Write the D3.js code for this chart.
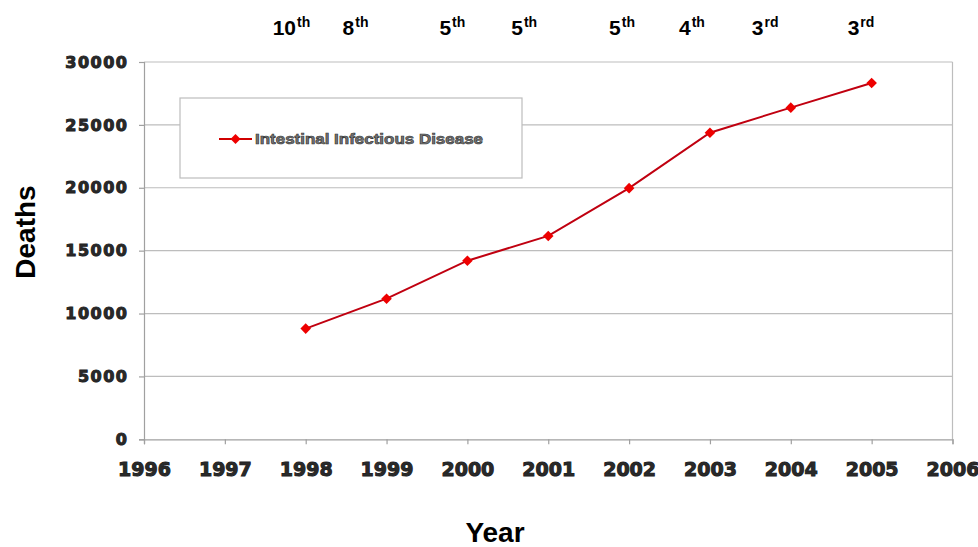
<!DOCTYPE html>
<html>
<head>
<meta charset="utf-8">
<script src="https://cdn.jsdelivr.net/npm/d3@7"></script>
<style>
  html, body { margin: 0; padding: 0; background: #fff; }
  svg { display: block; }
</style>
</head>
<body>
<svg id="chart" width="978" height="547"></svg>
<script>
// ---- data ----
const years = [1998, 1999, 2000, 2001, 2002, 2003, 2004, 2005];
const deaths = [8800, 11180, 14200, 16170, 19970, 24380, 26370, 28330];
const rankNum = ["10", "8", "5", "5", "5", "4", "3", "3"];
const rankSuffix = ["th", "th", "th", "th", "th", "th", "rd", "rd"];
const xTicks = [1996, 1997, 1998, 1999, 2000, 2001, 2002, 2003, 2004, 2005, 2006];
const yTicks = [0, 5000, 10000, 15000, 20000, 25000, 30000];
const seriesName = "Intestinal Infectious Disease";
const xTitle = "Year";
const yTitle = "Deaths";

// ---- layout (positions, not data) ----
const rankOffsets = [-33, -44, -28, -37, -20, -31, -39, -24];

(function () {
const svg = d3.select("#chart");
const pL = 144, pR = 952.5, pT = 62, pB = 439.3;

const x = d3.scaleLinear().domain([1996, 2006]).range([pL, pR]);
const y = d3.scaleLinear().domain([0, 30000]).range([pB, pT]);

// gridlines
svg.append("g").selectAll("line").data(yTicks.filter(d => d > 0)).join("line")
  .attr("x1", pL).attr("x2", pR)
  .attr("y1", d => y(d)).attr("y2", d => y(d))
  .attr("stroke", "#bdbdbd").attr("stroke-width", 1.2);

// right border
svg.append("line").attr("x1", pR).attr("x2", pR).attr("y1", pT).attr("y2", pB)
  .attr("stroke", "#bdbdbd").attr("stroke-width", 1.2);

// y axis
const yAxis = d3.axisLeft(y).tickValues(yTicks).tickSize(5).tickPadding(10.5).tickFormat(d3.format("d"));
const yg = svg.append("g").attr("transform", `translate(${pL},0)`).call(yAxis);
yg.select(".domain").attr("stroke", "#a0a0a0").attr("stroke-width", 1.2);
yg.selectAll(".tick line").attr("stroke", "#a0a0a0").attr("stroke-width", 1.2);
yg.selectAll(".tick text")
  .attr("font-family", "'DejaVu Sans', sans-serif").attr("font-weight", "bold")
  .attr("font-size", 16).attr("letter-spacing", 1.5)
  .attr("fill", "#2a2a2a").attr("stroke", "#222").attr("stroke-width", 1);

// x axis
const xAxis = d3.axisBottom(x).tickValues(xTicks).tickSize(5).tickPadding(18).tickFormat(d3.format("d"));
const xg = svg.append("g").attr("transform", `translate(0,${pB})`).call(xAxis);
xg.select(".domain").attr("stroke", "#a0a0a0").attr("stroke-width", 1.2);
xg.selectAll(".tick line").attr("stroke", "#a0a0a0").attr("stroke-width", 1.2);
xg.selectAll(".tick text")
  .attr("font-family", "'DejaVu Sans', sans-serif").attr("font-weight", "bold")
  .attr("font-size", 19)
  .attr("fill", "#2a2a2a").attr("stroke", "#222").attr("stroke-width", 1);

// legend
const lg = svg.append("g");
lg.append("rect").attr("x", 180).attr("y", 98).attr("width", 342).attr("height", 80)
  .attr("fill", "#fff").attr("stroke", "#bdbdbd").attr("stroke-width", 1.2);
lg.append("line").attr("x1", 219).attr("x2", 252).attr("y1", 139).attr("y2", 139)
  .attr("stroke", "#d00000").attr("stroke-width", 2);
lg.append("path").attr("d", d3.symbol(d3.symbolSquare, 50)())
  .attr("transform", "translate(235.5,139) rotate(45)").attr("fill", "#ee0000");
lg.append("text").attr("x", 255).attr("y", 143.5).text(seriesName)
  .attr("font-family", "'Liberation Sans', Arial, sans-serif").attr("font-weight", "bold")
  .attr("font-size", 14).attr("fill", "#777").attr("stroke", "#333").attr("stroke-width", 0.6)
  .attr("textLength", 228).attr("lengthAdjust", "spacingAndGlyphs");

// line
const line = d3.line().x((d, i) => x(years[i])).y(d => y(d));
svg.append("path").datum(deaths).attr("d", line)
  .attr("fill", "none").attr("stroke", "#c00010").attr("stroke-width", 2);

svg.append("g").selectAll("path").data(deaths).join("path")
  .attr("d", d3.symbol(d3.symbolSquare, 56)())
  .attr("transform", (d, i) => `translate(${x(years[i])},${y(d)}) rotate(45)`)
  .attr("fill", "#ee0000");

// rank labels
const rg = svg.append("g").selectAll("text").data(rankNum).join("text")
  .attr("x", (d, i) => x(years[i]) + rankOffsets[i])
  .attr("y", 35)
  .attr("font-family", "'Liberation Sans', Arial, sans-serif").attr("font-weight", "bold")
  .attr("font-size", 21).attr("fill", "#000");
rg.append("tspan").text(d => d);
rg.append("tspan").text((d, i) => rankSuffix[i]).attr("font-size", 14).attr("dy", -8).attr("dx", 1);

// axis titles
svg.append("text").attr("x", 495).attr("y", 542).attr("text-anchor", "middle")
  .attr("font-family", "'Liberation Sans', Arial, sans-serif").attr("font-weight", "bold")
  .attr("font-size", 28).attr("fill", "#000").text(xTitle);
svg.append("text").attr("transform", "translate(35,232) rotate(-90)").attr("text-anchor", "middle")
  .attr("font-family", "'Liberation Sans', Arial, sans-serif").attr("font-weight", "bold")
  .attr("font-size", 28).attr("fill", "#000").text(yTitle);
})();
</script>
</body>
</html>
